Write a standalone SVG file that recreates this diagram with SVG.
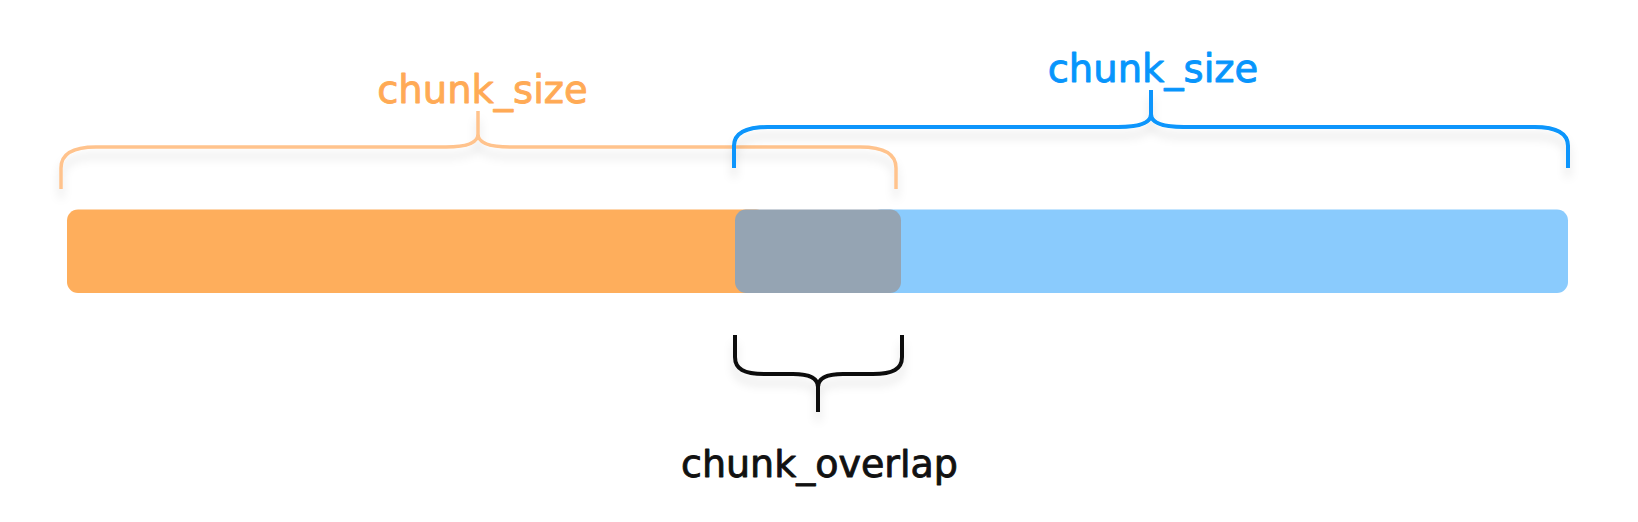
<svg xmlns="http://www.w3.org/2000/svg" width="1638" height="522" viewBox="0 0 1638 522">
<defs>
<filter id="sh" x="-10%" y="-30%" width="120%" height="200%">
<feDropShadow dx="0" dy="9" stdDeviation="5" flood-color="#000" flood-opacity="0.12"/>
</filter>
<style>
.lbl{font-family:"Comic Sans MS","DejaVu Sans",sans-serif;text-anchor:middle;stroke-width:0.9;stroke-linejoin:round}
.br{fill:none;stroke-linecap:butt;stroke-linejoin:round;filter:url(#sh)}
</style>
</defs>
<rect width="1638" height="522" fill="#fff"/>
<g id="chunk1">
<rect x="67" y="209.5" width="700" height="83.5" rx="11" fill="#FEAE5C"/>
</g>
<g id="chunk2">
<rect x="870" y="209.5" width="698" height="83.5" rx="11" fill="#8ACBFD"/>
</g>
<g id="overlap">
<rect x="735" y="209.5" width="166" height="83.5" rx="11" fill="#95A4B3"/>
</g>
<g id="connectors">
<path class="br" stroke="#FFC38D" stroke-width="3.5" d="M61,189 V168 C61,154 72,147 96,147 H446 C466,147 478,143 478,134 V111 M478,134 C478,143 490,147 510,147 H860 C884,147 896,154 896,168 V189"/>
<path class="br" stroke="#0795FC" stroke-width="4" d="M734,168 V146 C734,133 745,127 768,127 H1118 C1138,127 1151,123 1151,114 V90 M1151,114 C1151,123 1164,127 1184,127 H1534 C1557,127 1568,133 1568,146 V168"/>
<path class="br" stroke="#111" stroke-width="4" d="M735,335 V357 C735,369 744,374 764,374 H793 C810,374 818,378 818,387 V412 M818,387 C818,378 826,374 843,374 H873 C893,374 902,369 902,357 V335"/>
</g>
<g id="label-chunk1">
<text class="lbl" x="482.5" y="103" font-size="38.5" fill="#FFAA55" stroke="#FFAA55">chunk_size</text>
</g>
<g id="label-chunk2">
<text class="lbl" x="1153" y="82" font-size="38.5" fill="#0795FC" stroke="#0795FC">chunk_size</text>
</g>
<g id="label-overlap">
<text class="lbl" x="819.5" y="477" font-size="38" fill="#111" stroke="#111">chunk_overlap</text>
</g>
</svg>
